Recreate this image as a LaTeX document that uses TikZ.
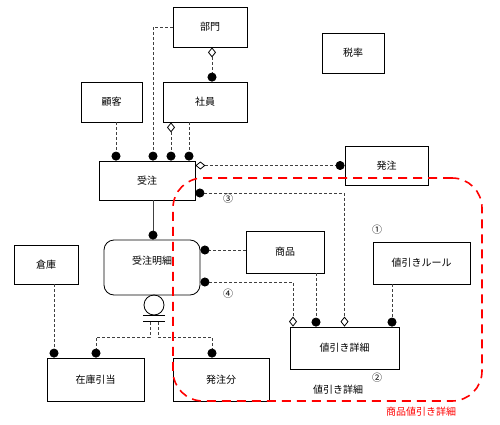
\documentclass[tikz,border=0pt]{standalone}
\usepackage{fontspec}
\setmainfont{Noto Sans CJK JP}
\usetikzlibrary{arrows.meta}

\begin{document}
\begin{tikzpicture}[x=1pt, y=-1pt, font=\fontsize{10}{12}\selectfont]
                \tikzset{Entity/.style= {draw, line width=0.8pt, fill=white, inner sep=0pt},
                         Rel/.style= {draw=black!75, line width=0.8pt, dash pattern=on 3pt off 2pt},
                         DotTip/.tip= {Circle[length=9pt, color=black]},
                         DiaTip/.tip= {Diamond[open, length=10pt, width=8pt, color=black]},
                         Note/.style= {inner sep=0pt}}
                \useasboundingbox (0,0) rectangle (500,425);
                \node[Entity, minimum width=74pt, minimum height=40pt] (bumon) at (210,27) {部門};
                \node[Entity, minimum width=62pt, minimum height=40pt] (zeiritsu) at (353,53) {税率};
                \node[Entity, minimum width=61pt, minimum height=40pt] (kokyaku) at (111.5,102) {顧客};
                \node[Entity, minimum width=84pt, minimum height=40pt] (shain) at (205,102) {社員};
                \node[Entity, minimum width=96pt, minimum height=39pt] (juchu) at (147,180.5) {受注};
                \node[Entity, minimum width=83pt, minimum height=39pt] (hatchu) at (386.5,165.5) {発注};
                \node[Entity, minimum width=78pt, minimum height=42pt] (shohin) at (285,252) {商品};
                \node[Entity, minimum width=97pt, minimum height=42pt] (rule) at (421.5,263) {値引きルール};
                \node[Entity, rounded corners=10pt, minimum width=96pt, minimum height=55pt, text depth=14pt] (meisai) at (152,267.5) {受注明細};
                \node[Entity, minimum width=64pt, minimum height=39pt] (soko) at (46,264.5) {倉庫};
                \node[Entity, minimum width=97pt, minimum height=43pt] (zaiko) at (95.5,379.5) {在庫引当};
                \node[Entity, minimum width=96pt, minimum height=43pt] (hatchubun) at (221,379.5) {発注分};
                \node[Entity, minimum width=109pt, minimum height=42pt] (shosai) at (344.5,348) {値引き詳細};
                % relations
                \draw[Rel, -DotTip] (bumon.west) -| ([xshift=6]juchu.north);
                \draw[Rel, DiaTip-DotTip] ([xshift=2]bumon.south) -- ([xshift=2]bumon.south |- shain.north);
                \draw[Rel, -DotTip] ([xshift=4.5]kokyaku.south) -- ([xshift=4.5]kokyaku.south |- juchu.north);
                \draw[Rel, DiaTip-DotTip] ([xshift=-34]shain.south) -- ([xshift=-34]shain.south |- juchu.north);
                \draw[Rel, -DotTip] ([xshift=-16]shain.south) -- ([xshift=-16]shain.south |- juchu.north);
                \draw[Rel, DiaTip-DotTip] (juchu.east |- hatchu.west) -- (hatchu.west);
                \draw[Rel, DotTip-DiaTip] ([yshift=-12.5]juchu.east) -| (shosai.north);
                \draw[line width=0.8pt, draw=black!75, -DotTip] ([xshift=6]juchu.south) -- ([xshift=6]juchu.south |- meisai.north);
                \draw[Rel, -DotTip] ([yshift=2]shohin.west) -- ([yshift=2]shohin.west -| meisai.east);
                \draw[Rel, DotTip-DiaTip] ([yshift=-14.5]meisai.east) -| ([xshift=-51.5]shosai.north);
                \draw[Rel, -DotTip] ([xshift=31]shohin.south) -- ([xshift=31]shohin.south |- shosai.north);
                \draw[Rel, -DotTip] ([xshift=-29.5]rule.south) -- ([xshift=-29.5]rule.south |- shosai.north);
                \draw[Rel, -DotTip] ([xshift=8]soko.south) -- ([xshift=8]soko.south |- zaiko.north);
                % subtype
                \node[draw, line width=0.8pt, circle, minimum size=20pt, inner sep=0pt] (sub) at (154,305) {};
                \draw[line width=0.8pt] ([xshift=-11]sub.south) -- ([xshift=11]sub.south);
                \draw[line width=0.8pt] ([xshift=-11,yshift=-6]sub.south) -- ([xshift=11,yshift=-6]sub.south);
                \coordinate (subL) at (150,322);
                \coordinate (subR) at (158,322);
                \draw[Rel, -DotTip] (subL) -- ++(0,15) -| ([xshift=0.5]zaiko.north);
                \draw[Rel, -DotTip] (subR) -- ++(0,15) -| ([xshift=-9]hatchubun.north);
                % group
                \node[draw=red, line width=1.6pt, dash pattern=on 9pt off 6pt, rounded corners=30pt, minimum width=309pt, minimum height=223pt, inner sep=0pt] (grp) at (327.5,289.5) {};
                \node[Note, text=red] (grplabel) at (421,412) {商品値引き詳細};
                \node[Note] (shosailabel) at (338,390) {値引き詳細};
                \node[Note] (n1) at (377,230) {①};
                \node[Note] (n2) at (377,378) {②};
                \node[Note] (n3) at (228,199) {③};
                \node[Note] (n4) at (228,294) {④};
            \end{tikzpicture}
\end{document}
